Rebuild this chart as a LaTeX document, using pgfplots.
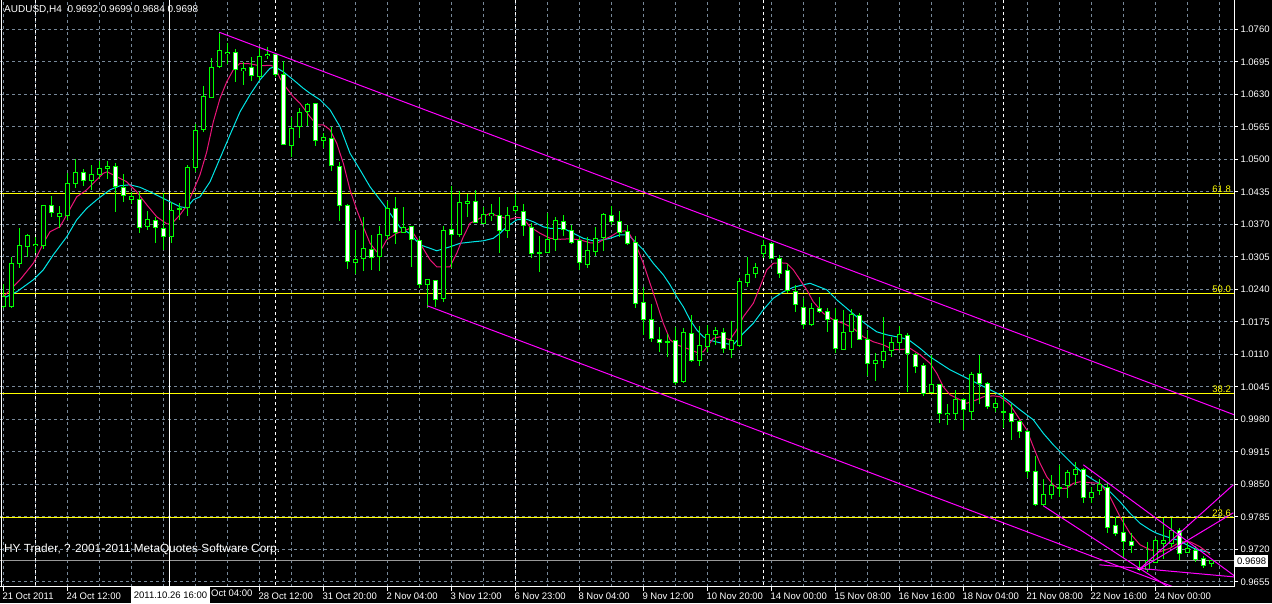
\documentclass[border=0pt]{standalone}
\usepackage{pgfplots}
\pgfplotsset{compat=1.18}
\usepackage{pgfplotstable}
\usepackage{fontspec}
\setmainfont{Liberation Sans}
\definecolor{gridc}{RGB}{119,136,153}
\definecolor{lime}{RGB}{0,255,0}
\definecolor{mared}{RGB}{235,20,120}
\definecolor{macyan}{RGB}{0,230,230}
\definecolor{mag}{RGB}{255,0,255}
\definecolor{fibc}{RGB}{255,255,0}

\pgfplotstableread{
t o h l c
0 1.0205 1.0251 1.0203 1.0225
1 1.0205 1.0304 1.0203 1.0292
2 1.0291 1.0362 1.0282 1.0328
3 1.0325 1.0350 1.0305 1.0348
4 1.0327 1.0345 1.0312 1.0330
5 1.0328 1.0409 1.0321 1.0407
6 1.0408 1.0427 1.0385 1.0394
7 1.0386 1.0407 1.0362 1.0391
8 1.0388 1.0472 1.0379 1.0452
9 1.0451 1.0500 1.0442 1.0474
10 1.0474 1.0480 1.0447 1.0458
11 1.0458 1.0489 1.0439 1.0470
12 1.0469 1.0497 1.0460 1.0482
13 1.0482 1.0497 1.0460 1.0486
14 1.0486 1.0493 1.0395 1.0445
15 1.0444 1.0470 1.0415 1.0427
16 1.0420 1.0435 1.0411 1.0425
17 1.0420 1.0435 1.0353 1.0364
18 1.0366 1.0397 1.0359 1.0380
19 1.0378 1.0384 1.0333 1.0364
20 1.0362 1.0432 1.0319 1.0346
21 1.0346 1.0415 1.0332 1.0398
22 1.0400 1.0412 1.0379 1.0402
23 1.0403 1.0489 1.0387 1.0484
24 1.0484 1.0570 1.0475 1.0558
25 1.0560 1.0647 1.0555 1.0626
26 1.0624 1.0702 1.0622 1.0684
27 1.0685 1.0754 1.0682 1.0717
28 1.0711 1.0732 1.0690 1.0714
29 1.0714 1.0721 1.0654 1.0680
30 1.0678 1.0694 1.0649 1.0681
31 1.0683 1.0704 1.0657 1.0667
32 1.0666 1.0722 1.0659 1.0706
33 1.0707 1.0725 1.0700 1.0710
34 1.0709 1.0710 1.0665 1.0670
35 1.0669 1.0697 1.0529 1.0530
36 1.0527 1.0584 1.0505 1.0562
37 1.0565 1.0603 1.0542 1.0594
38 1.0595 1.0613 1.0567 1.0609
39 1.0611 1.0612 1.0527 1.0537
40 1.0538 1.0552 1.0522 1.0544
41 1.0542 1.0565 1.0477 1.0487
42 1.0486 1.0495 1.0377 1.0408
43 1.0408 1.0411 1.0280 1.0296
44 1.0294 1.0359 1.0270 1.0300
45 1.0302 1.0384 1.0277 1.0322
46 1.0320 1.0349 1.0279 1.0304
47 1.0305 1.0367 1.0277 1.0350
48 1.0348 1.0417 1.0339 1.0401
49 1.0401 1.0425 1.0331 1.0354
50 1.0353 1.0405 1.0352 1.0364
51 1.0365 1.0366 1.0285 1.0340
52 1.0337 1.0342 1.0242 1.0250
53 1.0250 1.0260 1.0202 1.0259
54 1.0257 1.0259 1.0205 1.0219
55 1.0221 1.0367 1.0215 1.0357
56 1.0359 1.0447 1.0282 1.0349
57 1.0350 1.0437 1.0345 1.0414
58 1.0412 1.0430 1.0385 1.0416
59 1.0415 1.0439 1.0372 1.0373
60 1.0372 1.0405 1.0370 1.0389
61 1.0387 1.0411 1.0377 1.0391
62 1.0387 1.0425 1.0313 1.0357
63 1.0357 1.0405 1.0343 1.0388
64 1.0398 1.0431 1.0393 1.0406
65 1.0396 1.0410 1.0347 1.0367
66 1.0363 1.0373 1.0302 1.0311
67 1.0312 1.0347 1.0274 1.0314
68 1.0314 1.0393 1.0312 1.0339
69 1.0340 1.0385 1.0317 1.0378
70 1.0375 1.0389 1.0347 1.0360
71 1.0358 1.0369 1.0331 1.0334
72 1.0337 1.0345 1.0279 1.0293
73 1.0290 1.0345 1.0282 1.0318
74 1.0316 1.0365 1.0307 1.0341
75 1.0344 1.0392 1.0317 1.0390
76 1.0388 1.0407 1.0369 1.0376
77 1.0376 1.0397 1.0344 1.0354
78 1.0356 1.0369 1.0329 1.0332
79 1.0334 1.0347 1.0203 1.0212
80 1.0214 1.0245 1.0149 1.0180
81 1.0180 1.0211 1.0135 1.0142
82 1.0140 1.0165 1.0115 1.0134
83 1.0135 1.0151 1.0105 1.0136
84 1.0137 1.0165 1.0049 1.0053
85 1.0055 1.0162 1.0053 1.0154
86 1.0152 1.0189 1.0095 1.0097
87 1.0097 1.0167 1.0087 1.0128
88 1.0125 1.0168 1.0115 1.0150
89 1.0149 1.0165 1.0129 1.0157
90 1.0153 1.0162 1.0113 1.0121
91 1.0119 1.0177 1.0102 1.0137
92 1.0127 1.0263 1.0125 1.0255
93 1.0253 1.0304 1.0244 1.0270
94 1.0271 1.0292 1.0262 1.0283
95 1.0312 1.0339 1.0302 1.0328
96 1.0331 1.0333 1.0300 1.0302
97 1.0302 1.0309 1.0262 1.0272
98 1.0277 1.0290 1.0232 1.0237
99 1.0235 1.0249 1.0195 1.0209
100 1.0204 1.0223 1.0161 1.0169
101 1.0170 1.0212 1.0167 1.0202
102 1.0202 1.0225 1.0192 1.0195
103 1.0195 1.0202 1.0155 1.0179
104 1.0180 1.0202 1.0112 1.0122
105 1.0120 1.0199 1.0119 1.0154
106 1.0155 1.0200 1.0122 1.0190
107 1.0188 1.0192 1.0139 1.0140
108 1.0140 1.0159 1.0067 1.0091
109 1.0092 1.0112 1.0057 1.0098
110 1.0097 1.0185 1.0082 1.0115
111 1.0117 1.0145 1.0104 1.0133
112 1.0133 1.0167 1.0119 1.0149
113 1.0148 1.0153 1.0034 1.0112
114 1.0109 1.0113 1.0073 1.0085
115 1.0087 1.0092 1.0027 1.0032
116 1.0033 1.0109 1.0032 1.0049
117 1.0049 1.0051 0.9972 0.9992
118 0.9989 1.0011 0.9969 0.9992
119 0.9992 1.0039 0.9979 1.0020
120 1.0020 1.0022 0.9959 0.9999
121 0.9996 1.0075 0.9979 1.0070
122 1.0072 1.0109 1.0011 1.0052
123 1.0052 1.0055 1.0001 1.0005
124 1.0004 1.0022 0.9995 1.0012
125 0.9994 1.0032 0.9962 0.9995
126 0.9992 1.0011 0.9939 0.9975
127 0.9975 0.9979 0.9942 0.9955
128 0.9955 0.9959 0.9862 0.9875
129 0.9875 0.9907 0.9807 0.9809
130 0.9809 0.9860 0.9807 0.9830
131 0.9830 0.9869 0.9821 0.9847
132 0.9842 0.9889 0.9825 0.9844
133 0.9847 0.9879 0.9822 0.9874
134 0.9870 0.9895 0.9849 0.9880
135 0.9879 0.9882 0.9812 0.9824
136 0.9824 0.9845 0.9812 0.9834
137 0.9837 0.9860 0.9829 0.9850
138 0.9844 0.9855 0.9752 0.9764
139 0.9767 0.9785 0.9747 0.9752
140 0.9753 0.9782 0.9702 0.9735
141 0.9735 0.9752 0.9712 0.9727
142 0.9684 0.9697 0.9677 0.9679
143 0.9679 0.9735 0.9675 0.9697
144 0.9694 0.9743 0.9692 0.9737
145 0.9732 0.9782 0.9700 0.9737
146 0.9732 0.9782 0.9725 0.9757
147 0.9757 0.9762 0.9699 0.9712
148 0.9713 0.9735 0.9712 0.9721
149 0.9717 0.9727 0.9695 0.9700
150 0.9702 0.9707 0.9682 0.9687
151 0.9692 0.9699 0.9684 0.9698
}\candles

\pgfplotstableread{
t p
0 1.0225
2.09 1.0259
3.75 1.0292
5.0 1.0332
5.84 1.0355
7.09 1.0365
7.93 1.0389
9.18 1.0425
10.43 1.0439
11.68 1.0459
12.5 1.0472
13.0 1.0475
14.18 1.0465
15.43 1.0455
16.68 1.0435
17.93 1.0409
19.18 1.0385
20.43 1.0371
21.05 1.0371
22.09 1.0389
23.0 1.0409
23.96 1.0445
24.59 1.0469
25.43 1.0515
26.25 1.0575
27.09 1.0622
27.93 1.0655
28.75 1.0679
29.59 1.0692
30.84 1.0691
32.09 1.0687
33.34 1.0688
33.96 1.0685
34.59 1.0662
35.43 1.0642
36.25 1.0625
37.09 1.0612
38.34 1.0585
39.18 1.0569
40.0 1.0569
40.84 1.0559
41.68 1.0532
42.5 1.0492
43.34 1.0439
44.18 1.0399
45.0 1.0365
45.84 1.0332
46.68 1.0315
47.09 1.0315
47.93 1.0339
49.18 1.0352
50.43 1.0359
50.84 1.0362
52.09 1.0332
53.34 1.0299
54.18 1.0285
55.84 1.0285
56.68 1.0312
57.5 1.0345
58.34 1.0372
59.59 1.0382
60.84 1.0392
62.09 1.0385
63.34 1.0380
64.18 1.0384
65.0 1.0382
65.84 1.0365
67.09 1.0352
68.34 1.0342
69.59 1.0340
70.84 1.0341
72.09 1.0339
73.34 1.0333
74.18 1.0332
75.0 1.0339
75.84 1.0345
76.88 1.0355
77.71 1.0357
78.34 1.0349
79.18 1.0325
80.0 1.0292
80.84 1.0252
81.68 1.0212
82.5 1.0172
83.34 1.0139
84.18 1.0129
85.43 1.0122
86.68 1.0114
87.5 1.0115
88.75 1.0142
89.59 1.0145
90.84 1.0139
91.68 1.0159
92.5 1.0185
93.75 1.0212
94.59 1.0245
95.43 1.0279
96.25 1.0292
97.09 1.0293
97.93 1.0292
98.75 1.0279
99.59 1.0259
100.43 1.0239
101.25 1.0215
102.5 1.0192
103.75 1.0179
105.0 1.0172
106.25 1.0162
107.5 1.0145
108.75 1.0135
110.0 1.0129
111.25 1.0119
112.5 1.0120
113.34 1.0122
114.59 1.0109
115.84 1.0092
116.68 1.0072
117.5 1.0045
118.34 1.0029
119.59 1.0019
120.43 1.0012
121.68 1.0019
122.5 1.0025
123.75 1.0027
124.59 1.0025
125.43 1.0015
125.84 1.0009
127.09 0.9979
127.93 0.9959
128.75 0.9925
129.59 0.9892
130.43 0.9865
131.25 0.9849
131.88 0.9842
132.93 0.9842
133.75 0.9852
134.59 0.9855
135.84 0.9853
137.09 0.9852
138.34 0.9825
139.59 0.9785
140.84 0.9752
142.09 0.9729
143.34 0.9719
144.59 0.9715
145.84 0.9722
147.09 0.9735
148.34 0.9735
149.59 0.9725
150.43 0.9715
150.84 0.9709
}\mafast

\pgfplotstableread{
t p
0 1.0222
1.68 1.0235
3.75 1.0259
5.0 1.0279
6.25 1.0309
7.93 1.0345
9.18 1.0379
10.43 1.0402
11.68 1.0419
12.5 1.0429
13.34 1.0439
14.59 1.0447
15.84 1.0449
17.09 1.0444
18.34 1.0435
19.59 1.0425
20.84 1.0415
22.09 1.0405
22.93 1.0403
23.75 1.0419
24.59 1.0425
25.84 1.0455
27.09 1.0502
28.34 1.0549
29.59 1.0595
30.84 1.0629
32.09 1.0659
33.34 1.0682
33.96 1.0685
35.0 1.0675
36.25 1.0659
37.5 1.0642
38.34 1.0632
39.59 1.0619
40.84 1.0599
42.09 1.0565
43.34 1.0512
44.59 1.0479
45.84 1.0445
47.09 1.0419
48.34 1.0392
49.59 1.0364
50.84 1.0351
52.09 1.0329
53.34 1.0322
54.18 1.0317
55.84 1.0325
57.09 1.0332
58.75 1.0335
60.0 1.0337
61.25 1.0342
62.09 1.0352
62.93 1.0365
64.18 1.0379
65.43 1.0380
66.25 1.0375
67.5 1.0365
68.34 1.0362
70.0 1.0362
71.25 1.0352
72.5 1.0342
73.75 1.0337
75.0 1.0339
75.84 1.0342
77.09 1.0349
78.13 1.0349
78.75 1.0339
80.0 1.0319
81.25 1.0292
82.5 1.0269
83.34 1.0249
84.18 1.0225
85.0 1.0205
85.84 1.0179
86.68 1.0159
87.5 1.0145
88.34 1.0138
89.59 1.0133
91.25 1.0129
92.5 1.0152
93.75 1.0172
95.0 1.0199
96.25 1.0222
97.5 1.0235
98.75 1.0244
100.0 1.0249
100.84 1.0252
102.93 1.0239
104.18 1.0219
105.43 1.0202
106.68 1.0185
107.93 1.0169
109.18 1.0155
110.43 1.0149
111.68 1.0145
112.5 1.0142
113.34 1.0137
114.59 1.0122
115.84 1.0105
117.09 1.0092
118.34 1.0079
119.59 1.0069
120.84 1.0059
122.09 1.0049
123.34 1.0039
124.59 1.0029
125.84 1.0015
127.09 0.9999
128.75 0.9979
130.0 0.9952
131.25 0.9929
132.5 0.9909
133.75 0.9889
135.0 0.9872
136.25 0.9859
137.09 0.9851
138.34 0.9835
139.59 0.9815
140.84 0.9792
142.09 0.9772
143.34 0.9759
144.18 0.9752
145.43 0.9745
146.68 0.9739
147.93 0.9729
149.18 0.9719
150.43 0.9715
150.84 0.9713
}\maslow

\begin{document}
\begin{tikzpicture}[font=\fontsize{9.5}{11}\selectfont]
\fill[black] (0,0) rectangle (1272pt,603pt);
\useasboundingbox (0,0) rectangle (1272pt,603pt);
\begin{axis}[
  at={(0pt,16.3pt)}, anchor=south west,
  scale only axis, width=1234.3pt, height=586.7pt,
  xmin=-0.4125, xmax=153.875, ymin=0.96452, ymax=1.08186,
  axis line style={draw=none},
  xtick={0,4,...,152}, xticklabels={}, xtick style={draw=none},
  ytick={0.9655,0.9720,0.9785,0.9850,0.9915,0.9980,1.0045,1.0110,1.0175,1.0240,1.0305,1.0370,1.0435,1.0500,1.0565,1.0630,1.0695,1.0760},
  ytick pos=right, yticklabel pos=right, tick align=outside,
  ytick style={white, line width=1pt}, major tick length=4pt,
  scaled y ticks=false,
  yticklabel style={white, anchor=west, inner xsep=2pt,
    /pgf/number format/.cd, fixed, fixed zerofill, precision=4, assume math mode=true},
  grid=major,
  major grid style={gridc, line width=1pt, dash pattern=on 3pt off 3pt},
  extra x ticks={0,8,32,40,48,56,64,72,80,88,96,104,112,120,128,136,144},
  extra x tick labels={21 Oct 2011,24 Oct 12:00,28 Oct 12:00,31 Oct 20:00,2 Nov 04:00,3 Nov 12:00,6 Nov 23:00,8 Nov 04:00,9 Nov 12:00,10 Nov 20:00,14 Nov 00:00,15 Nov 08:00,16 Nov 16:00,18 Nov 04:00,21 Nov 08:00,22 Nov 16:00,24 Nov 00:00},
  extra x tick style={grid=none, xtick style={draw=white, line width=1pt}, major tick length=4pt,
    xticklabel style={white, anchor=north west, inner xsep=0pt, xshift=-1pt, yshift=1pt}},
]
% fibonacci levels
\addplot[fibc, line width=1pt, forget plot] coordinates {(-1,1.0432) (160,1.0432)};
\addplot[fibc, line width=1pt, forget plot] coordinates {(-1,1.0232) (160,1.0232)};
\addplot[fibc, line width=1pt, forget plot] coordinates {(-1,1.0032) (160,1.0032)};
\addplot[fibc, line width=1pt, forget plot] coordinates {(-1,0.9783) (160,0.9783)};
% bid line
\addplot[gray!80, line width=1pt, forget plot] coordinates {(-1,0.9698) (160,0.9698)};
% period separators
\foreach \s in {4,34,64,95,125}{
  \edef\tmp{\noexpand\addplot[white, line width=1pt, dash pattern=on 3pt off 3pt, forget plot] coordinates {(\s,0.9) (\s,1.2)};}\tmp
}
% vertical line
\addplot[white, line width=1pt, forget plot] coordinates {(20.75,0.9) (20.75,1.2)};
% moving averages
\addplot[macyan, line width=1pt, forget plot] table[x=t, y=p] {\maslow};
\addplot[mared, line width=1pt, forget plot] table[x=t, y=p] {\mafast};
% wicks
\addplot[draw=none, mark=none, forget plot,
  error bars/.cd, y dir=both, y explicit, error mark=none,
  error bar style={lime, line width=1pt}]
  table[x=t, y expr={(\thisrow{h}+\thisrow{l})/2}, y error expr={(\thisrow{h}-\thisrow{l})/2}] {\candles};
% body outlines
\addplot[draw=none, mark=none, forget plot,
  error bars/.cd, y dir=both, y explicit, error mark=none,
  error bar style={lime, line width=5pt}]
  table[x=t, y expr={(\thisrow{o}+\thisrow{c})/2}, y error expr={abs(\thisrow{o}-\thisrow{c})/2+0.0001}] {\candles};
% bear fill
\addplot[draw=none, mark=none, forget plot,
  error bars/.cd, y dir=both, y explicit, error mark=none,
  error bar style={white, line width=3pt}]
  table[x=t, y expr={(\thisrow{o}+\thisrow{c})/2}, y error expr={(\thisrow{c}<\thisrow{o}) ? max(abs(\thisrow{o}-\thisrow{c})/2-0.0001,0) : 0}] {\candles};
% bull fill
\addplot[draw=none, mark=none, forget plot,
  error bars/.cd, y dir=both, y explicit, error mark=none,
  error bar style={black, line width=3pt}]
  table[x=t, y expr={(\thisrow{o}+\thisrow{c})/2}, y error expr={(\thisrow{c}>=\thisrow{o}) ? max(abs(\thisrow{o}-\thisrow{c})/2-0.0001,0) : 0}] {\candles};
% channel lines
\addplot[mag, line width=1pt, forget plot] coordinates {(27,1.0754) (160,0.9952)};
\addplot[mag, line width=1pt, forget plot] coordinates {(53,1.0207) (160,0.9562)};
\addplot[mag, line width=1pt, forget plot] coordinates {(135,0.9889) (160,0.9595)};
\addplot[mag, line width=1pt, forget plot] coordinates {(130,0.9807) (160,0.9495)};
\addplot[mag, line width=1pt, forget plot] coordinates {(137,0.9689) (160,0.9656)};
\addplot[mag, line width=1pt, forget plot] coordinates {(142,0.9680) (153.75,0.9849)};
\addplot[mag, line width=1pt, forget plot] coordinates {(142,0.9680) (153.75,0.9793)};
% labels
\node[fibc, anchor=south east, inner sep=1pt] at (axis cs:153.6,1.0432) {61.8};
\node[fibc, anchor=south east, inner sep=1pt] at (axis cs:153.6,1.0232) {50.0};
\node[fibc, anchor=south east, inner sep=1pt] at (axis cs:153.6,1.0032) {38.2};
\node[fibc, anchor=south east, inner sep=1pt] at (axis cs:153.6,0.9783) {23.6};
\end{axis}
% frame
\draw[white, line width=1pt] (1234.3pt,16.3pt) -- (1234.3pt,603pt);
\draw[white, line width=1pt] (0pt,16.3pt) -- (1234.3pt,16.3pt);
\draw[white, line width=1pt] (1pt,16.3pt) -- (1pt,603pt);
\draw[white, line width=1pt] (195.3pt,16.3pt) -- (195.3pt,12.3pt);
% texts
\node[white, anchor=west, inner sep=0pt, font=\fontsize{10}{12}\selectfont] at (4pt,593pt) {AUDUSD,H4\ \ 0.9692 0.9699 0.9684 0.9698};
\node[white, anchor=west, inner sep=0pt, font=\fontsize{11.8}{13}\selectfont] at (4pt,54pt) {HY Trader, ? 2001-2011 MetaQuotes Software Corp.};
\node[white, anchor=north west, inner sep=0pt] at (211pt,13.3pt) {Oct 04:00};
\node[fill=white, text=black, anchor=west, inner xsep=2pt, inner ysep=1pt, minimum height=12pt] at (1235pt,42pt) {0.9698};
\node[fill=white, text=black, inner xsep=3pt, minimum height=16pt, minimum width=75pt, anchor=north] at (170.5pt,16.3pt) {2011.10.26 16:00};
\end{tikzpicture}
\end{document}
